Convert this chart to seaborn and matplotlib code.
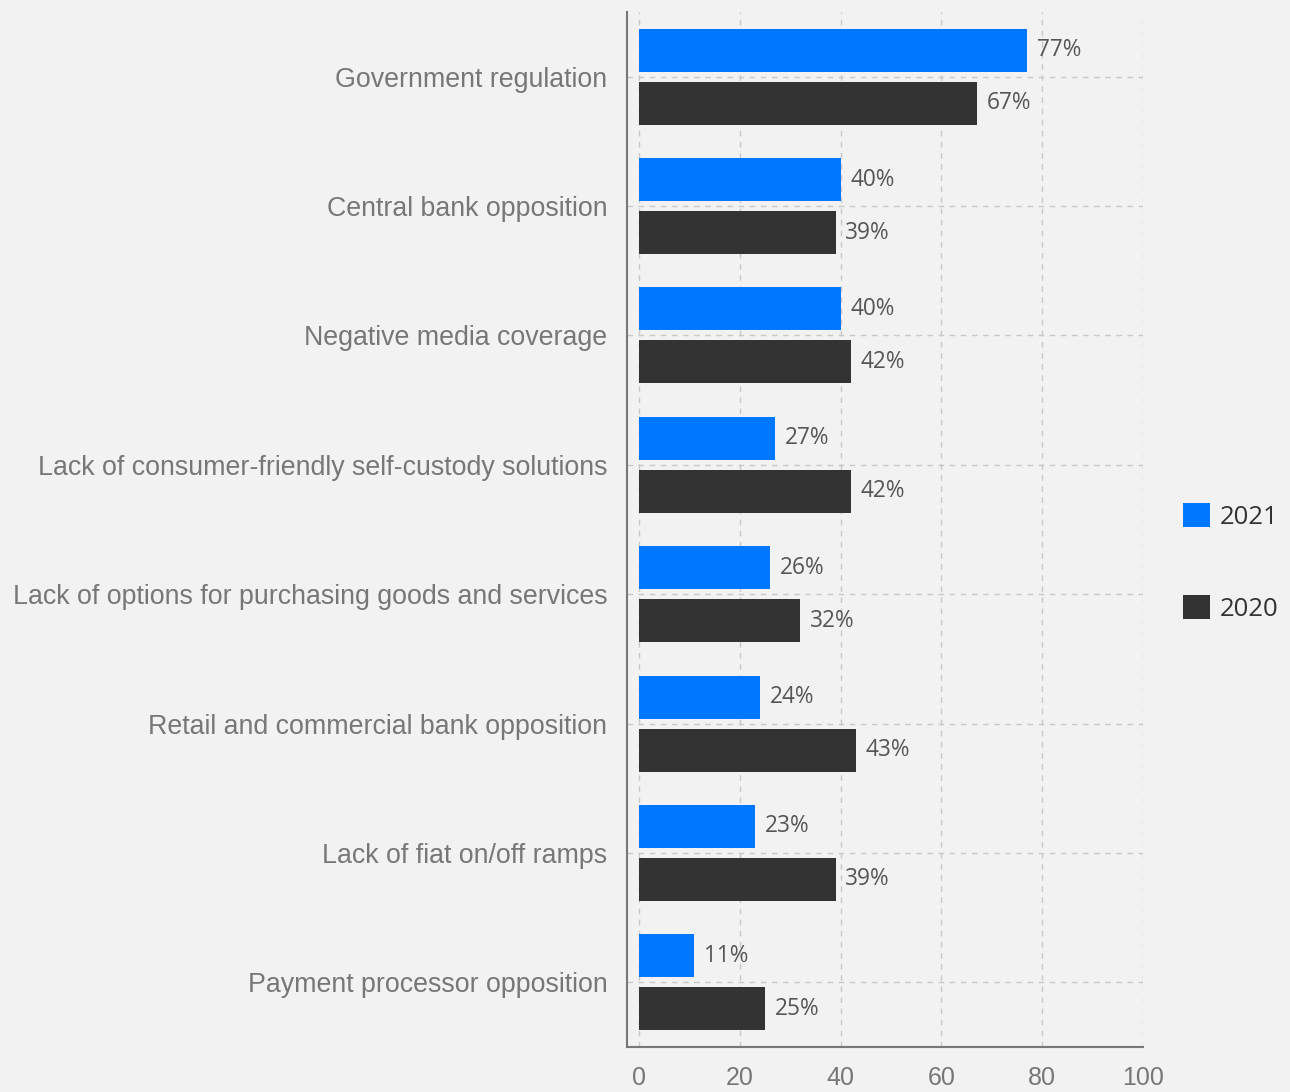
import matplotlib
matplotlib.use('Agg')
import matplotlib.pyplot as plt
import pandas as pd
import seaborn as sns

# survey: obstacles to crypto adoption
categories = ['Government regulation',
              'Central bank opposition',
              'Negative media coverage',
              'Lack of consumer-friendly self-custody solutions',
              'Lack of options for purchasing goods and services',
              'Retail and commercial bank opposition',
              'Lack of fiat on/off ramps',
              'Payment processor opposition']
vals_2021 = [77, 40, 40, 27, 26, 24, 23, 11]
vals_2020 = [67, 39, 42, 42, 32, 43, 39, 25]
years = ['2021', '2020']
colors = ['#0077FF', '#333333']
xticks = [0, 20, 40, 60, 80, 100]

df = pd.DataFrame({'Obstacle': categories * 2,
                   'Share': vals_2021 + vals_2020,
                   'Year': [years[0]] * len(categories) + [years[1]] * len(categories)})

sns.set_style('white')
plt.rcParams['font.family'] = ['Liberation Sans', 'DejaVu Sans']
bg = '#F2F2F2'
axis_col = '#777777'

fig = plt.figure(figsize=(12.9, 10.92), dpi=100, facecolor=bg)
ax = fig.add_axes([0.486, 0.0412, 0.40, 0.9478])
ax.set_facecolor(bg)

sns.barplot(data=df, y='Obstacle', x='Share', hue='Year', order=categories,
            hue_order=years, palette=colors, width=0.82, gap=0.19,
            orient='h', saturation=1, linewidth=0, ax=ax, zorder=3)

ax.set_xlim(-2.4, 100)
ax.set_ylim(len(categories) - 0.5, -0.5)
ax.set_xticks(xticks)
ax.set_xlabel('')
ax.set_ylabel('')

ax.grid(True, ls=(0, (4, 4)), color='#C8C8C8', lw=1, zorder=0)
ax.set_axisbelow(True)

for s in ['top', 'right']:
    ax.spines[s].set_visible(False)
for s in ['left', 'bottom']:
    ax.spines[s].set_color(axis_col)
    ax.spines[s].set_linewidth(1.5)
ax.spines['bottom'].set_bounds(-2.4, 100)

ax.tick_params(axis='y', length=8, width=1.5, color=axis_col, pad=6,
               labelsize=19.3, labelcolor=axis_col)
ax.tick_params(axis='x', length=8, width=1.5, color=axis_col, pad=6,
               labelsize=18, labelcolor=axis_col)

for cont in ax.containers:
    ax.bar_label(cont, labels=[f'{v:.0f}%' for v in cont.datavalues],
                 padding=7, fontsize=16.3, color='#555555',
                 family=['Open Sans', 'DejaVu Sans'])

sns.move_legend(ax, 'center left', bbox_to_anchor=(0.917, 0.485),
                bbox_transform=fig.transFigure, frameon=False, title=None,
                fontsize=18.5, handlelength=1.05, handleheight=1.05,
                handletextpad=0.4, labelspacing=2.55, borderpad=0)
leg = ax.get_legend()
leg.set_bbox_to_anchor((0.907, 0.485), transform=fig.transFigure)
for t in leg.get_texts():
    t.set_color('#333333')
    t.set_fontfamily(['Open Sans', 'DejaVu Sans'])

fig.savefig('out.png', dpi=100, facecolor=bg)
